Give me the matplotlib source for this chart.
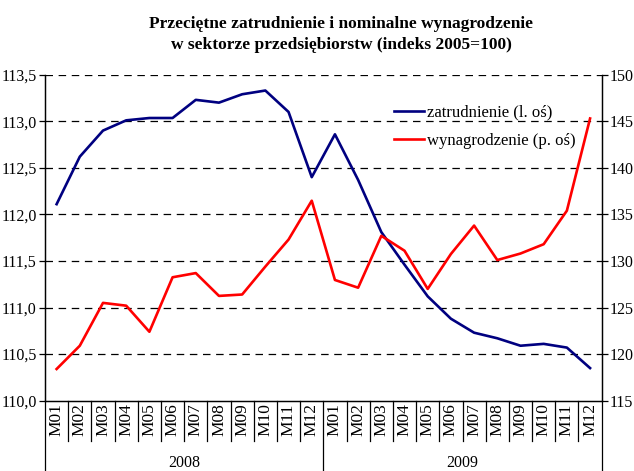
import numpy as np
import matplotlib
matplotlib.use("Agg")
import matplotlib.pyplot as plt
import matplotlib.transforms as mtransforms

# data
months = ["M01", "M02", "M03", "M04", "M05", "M06",
          "M07", "M08", "M09", "M10", "M11", "M12"] * 2
years = ["2008", "2009"]
zatrudnienie = [112.11, 112.62, 112.90, 113.01, 113.035, 113.035,
                113.23, 113.20, 113.29, 113.33, 113.10, 112.40,
                112.86, 112.37, 111.81, 111.46, 111.12, 110.88,
                110.73, 110.67, 110.59, 110.61, 110.57, 110.35]
wynagrodzenie = [118.4, 120.9, 125.5, 125.2, 122.4, 128.25,
                 128.7, 126.25, 126.4, 129.4, 132.3, 136.47,
                 127.96, 127.13, 132.7, 131.1, 127.0, 130.75,
                 133.8, 130.1, 130.8, 131.8, 135.4, 145.3]
left_ticks = [110.0, 110.5, 111.0, 111.5, 112.0, 112.5, 113.0, 113.5]
right_ticks = [115, 120, 125, 130, 135, 140, 145, 150]

plt.rcParams["font.family"] = ["Liberation Serif", "DejaVu Serif"]

fig = plt.figure(figsize=(6.34, 4.71), dpi=100)
ax = fig.add_axes([0.071, 0.1493, 0.878, 0.6921])
ax2 = ax.twinx()

x = np.arange(len(months))
ax.plot(x, zatrudnienie, color="#000080", lw=1.9, label="zatrudnienie (l. oś)", zorder=3)
ax2.plot(x, wynagrodzenie, color="#FF0000", lw=1.9, label="wynagrodzenie (p. oś)", zorder=3)

ax.set_xlim(-0.5, len(months) - 0.5)
ax.set_ylim(110.0, 113.5)
ax2.set_ylim(115, 150)
ax.set_yticks(left_ticks)
ax.set_yticklabels([f"{t:.1f}".replace(".", ",") for t in left_ticks])
ax2.set_yticks(right_ticks)
ax2.set_yticklabels([str(t) for t in right_ticks])

# dashed grid
for t in left_ticks[1:]:
    ax.axhline(t, color="black", lw=0.9, ls=(0, (6, 4.5)), zorder=1)

for a in (ax, ax2):
    a.spines["top"].set_visible(False)
    a.tick_params(axis="y", labelsize=11.5, length=4, width=0.9, direction="out", pad=2)
    for s in a.spines.values():
        s.set_linewidth(0.9)

ax.set_xticks(x)
ax.set_xticklabels(months, rotation=90, fontsize=12.5)
ax.tick_params(axis="x", length=0, pad=2)

# category separators below the axis
trans = mtransforms.blended_transform_factory(ax.transData, ax.transAxes)
for b in np.arange(-0.5, len(months) + 0.5, 1):
    if b in (-0.5, 11.5, len(months) - 0.5):
        ax.plot([b, b], [0, -0.22], color="black", lw=0.9, transform=trans, clip_on=False)
    else:
        ax.plot([b, b], [0, -0.123], color="black", lw=0.9, transform=trans, clip_on=False)
for i, yr in enumerate(years):
    ax.text(5.5 + 12 * i, -0.19, yr, transform=trans, ha="center", va="center", fontsize=11.5)

# legend
h1, l1 = ax.get_legend_handles_labels()
h2, l2 = ax2.get_legend_handles_labels()
ax2.legend(h1 + h2, l1 + l2, loc="upper left", bbox_to_anchor=(0.6, 0.955),
           frameon=False, fontsize=12, handlelength=1.8, handletextpad=0.2,
           labelspacing=0.75)

fig.text(0.538, 0.965, "Przeciętne zatrudnienie i nominalne wynagrodzenie\n"
         "w sektorze przedsiębiorstw (indeks 2005=100)",
         ha="center", va="top", fontsize=12.5, fontweight="bold", linespacing=1.35)

fig.savefig("out.png", dpi=100)
